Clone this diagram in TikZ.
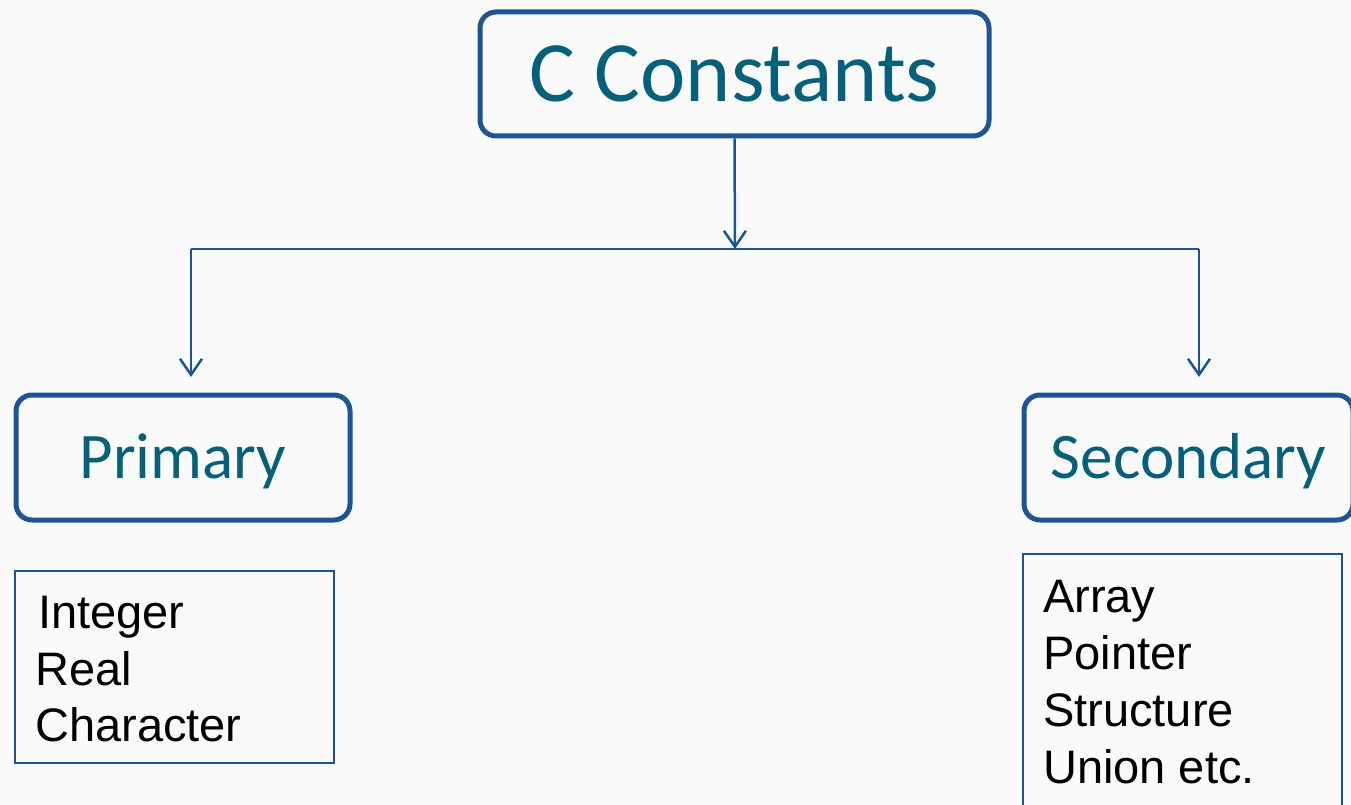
\documentclass[tikz,border=0pt]{standalone}
\usepackage{fontspec}
\usetikzlibrary{arrows.meta}
\newfontfamily\headfont{Carlito}
\newfontfamily\listfont{Liberation Sans}
\definecolor{frameblue}{RGB}{28,84,150}
\definecolor{headteal}{RGB}{6,96,122}
\definecolor{paper}{RGB}{250,250,250}
\begin{document}
\begin{tikzpicture}[x=1pt,y=-1pt,
  headbox/.style={draw=frameblue, line width=5pt, rounded corners=16pt, inner sep=0pt,
    text=headteal, text depth=0pt},
  listbox/.style={draw=frameblue, line width=2.2pt, inner sep=0pt},
  item/.style={anchor=base west, inner sep=0pt, font=\listfont\fontsize{47}{56}\selectfont},
  link/.style={draw=frameblue, line width=2.5pt},
  tip/.style={link, -{Straight Barb[length=16pt,width=22pt]}}
]
% page
\fill[paper] (0,0) rectangle (1351,805);
\useasboundingbox (0,0) rectangle (1351,805);

% headings
\node[headbox, minimum width=509pt, minimum height=124pt, text height=56pt,
      font=\headfont\fontsize{86}{100}\selectfont] (top) at (734.5,74) {C Constants};
\node[headbox, minimum width=334pt, minimum height=125pt, text height=42pt,
      font=\headfont\fontsize{65}{78}\selectfont] (prim) at (183,457.5) {Primary};
\node[headbox, minimum width=329pt, minimum height=125pt, text height=42pt,
      font=\headfont\fontsize{65}{78}\selectfont] (sec) at (1188.5,457.5) {Secondary};

% lists
\node[listbox, minimum width=319pt, minimum height=192pt] (plist) at (174.5,667) {};
\node[listbox, minimum width=319pt, minimum height=266pt] (slist) at (1182.5,687) {};

\node[item] (i1) at (38,628) {Integer};
\node[item] (i2) at (35,685) {Real};
\node[item] (i3) at (35,741) {Character};

\node[item] (s1) at (1043,612) {Array};
\node[item] (s2) at (1043,669) {Pointer};
\node[item] (s3) at (1043,726) {Structure};
\node[item] (s4) at (1043,783) {Union etc.};

% connectors
\coordinate (fork) at (735,249);
\coordinate (lbend) at (191,249);
\coordinate (rbend) at (1199,249);
\coordinate (ltip) at (191,377);
\coordinate (rtip) at (1199,377);

\draw[tip] (top.south) -- (fork);
\draw[link] (lbend) -- (rbend);
\draw[tip] (lbend) -- (ltip);
\draw[tip] (rbend) -- (rtip);
\end{tikzpicture}
\end{document}
